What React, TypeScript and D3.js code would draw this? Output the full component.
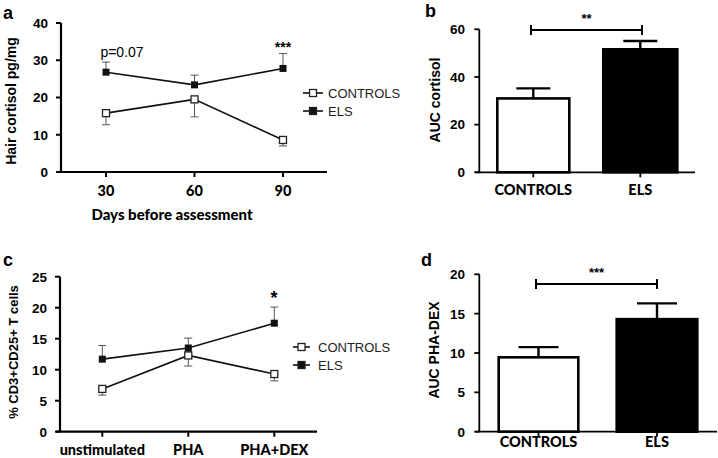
import React from "react";
import * as d3 from "d3";

// Panel a data
const daysCats = ["30", "60", "90"];
const cortControls = [15.8, 19.5, 8.6];
const cortControlsErr = [3.1, 4.7, 1.6];
const cortELS = [26.8, 23.4, 27.8];
const cortELSErr = [2.7, 2.6, 4.0];
const cortTicks = [0, 10, 20, 30, 40];

// Panel b data
const groups = ["CONTROLS", "ELS"];
const aucCortisol = [31.0, 51.6];
const aucCortisolErr = [4.2, 3.5];
const aucCortTicks = [0, 20, 40, 60];

// Panel c data
const stimCats = ["unstimulated", "PHA", "PHA+DEX"];
const tcControls = [6.9, 12.3, 9.3];
const tcControlsErr = [1.0, 1.7, 1.1];
const tcELS = [11.7, 13.5, 17.5];
const tcELSErr = [2.2, 1.6, 2.6];
const tcTicks = [0, 5, 10, 15, 20, 25];

// Panel d data
const aucPha = [9.45, 14.3];
const aucPhaErr = [1.3, 2.0];
const aucPhaTicks = [0, 5, 10, 15, 20];

const CAL = "Lato, 'Open Sans', sans-serif";
const ARI = "'Liberation Sans', Arial, sans-serif";

type LineProps = {
  cats: string[];
  ctrl: number[];
  ctrlErr: number[];
  els: number[];
  elsErr: number[];
  ticks: number[];
  yMax: number;
  yPx: [number, number];
  xAxisX: [number, number];
  xPos: [number, number];
  yAxisX: number;
  tickLabelX: number;
  catLabelY: number;
  legendX: number;
  legendY: [number, number];
  legendLine: [number, number];
};

function LinePanel(p: LineProps) {
  const y = d3.scaleLinear().domain([0, p.yMax]).range(p.yPx);
  const x = d3.scalePoint<string>().domain(p.cats).range(p.xPos);
  const line = d3
    .line<number>()
    .x((_, i) => x(p.cats[i])!)
    .y((d) => y(d));
  const sq = 7;
  return (
    <g>
      <line x1={p.yAxisX} x2={p.yAxisX} y1={p.yPx[1]} y2={p.yPx[0]} stroke="#000" strokeWidth={2.2} />
      {p.ticks.map((t) => (
        <g key={t}>
          <line x1={p.yAxisX - 5} x2={p.yAxisX} y1={y(t)} y2={y(t)} stroke="#000" strokeWidth={2} />
          <text x={p.tickLabelX} y={y(t)} dy="0.36em" textAnchor="end" fontFamily={ARI} fontWeight="bold" fontSize={13.5}>
            {t}
          </text>
        </g>
      ))}
      <line x1={p.xAxisX[0]} x2={p.xAxisX[1]} y1={p.yPx[0]} y2={p.yPx[0]} stroke="#000" strokeWidth={2.2} />
      {p.cats.map((c) => (
        <g key={c}>
          <line x1={x(c)} x2={x(c)} y1={p.yPx[0]} y2={p.yPx[0] + 5} stroke="#000" strokeWidth={2} />
          <text x={x(c)} y={p.catLabelY} dy="0.35em" textAnchor="middle" fontFamily={CAL} fontWeight="900" fontSize={14.5}>
            {c}
          </text>
        </g>
      ))}
      {p.ctrl.map((v, i) => {
        const cx = x(p.cats[i])!;
        const y1 = y(v - p.ctrlErr[i]);
        return (
          <g key={"ce" + i} stroke="#555" strokeWidth={1}>
            <line x1={cx} x2={cx} y1={y(v)} y2={y1} />
            <line x1={cx - 4} x2={cx + 4} y1={y1} y2={y1} />
          </g>
        );
      })}
      {p.els.map((v, i) => {
        const cx = x(p.cats[i])!;
        const y1 = y(v + p.elsErr[i]);
        return (
          <g key={"ee" + i} stroke="#555" strokeWidth={1}>
            <line x1={cx} x2={cx} y1={y(v)} y2={y1} />
            <line x1={cx - 4} x2={cx + 4} y1={y1} y2={y1} />
          </g>
        );
      })}
      <path d={line(p.ctrl)!} fill="none" stroke="#111" strokeWidth={1.6} />
      <path d={line(p.els)!} fill="none" stroke="#111" strokeWidth={1.6} />
      {p.ctrl.map((v, i) => (
        <rect key={"cm" + i} x={x(p.cats[i])! - sq / 2} y={y(v) - sq / 2} width={sq} height={sq} fill="#fff" stroke="#222" strokeWidth={1.3} />
      ))}
      {p.els.map((v, i) => (
        <rect key={"em" + i} x={x(p.cats[i])! - sq / 2} y={y(v) - sq / 2} width={sq} height={sq} fill="#111" />
      ))}
      {["CONTROLS", "ELS"].map((lab, i) => {
        const ly = p.legendY[i];
        const mx = (p.legendLine[0] + p.legendLine[1]) / 2;
        return (
          <g key={lab}>
            <line x1={p.legendLine[0]} x2={p.legendLine[1]} y1={ly} y2={ly} stroke="#111" strokeWidth={1.6} />
            <rect x={mx - sq / 2} y={ly - sq / 2} width={sq} height={sq} fill={i === 0 ? "#fff" : "#111"} stroke="#222" strokeWidth={1.3} />
            <text x={p.legendX} y={ly} dy="0.35em" fontFamily={ARI} fontSize={13} fill="#222">
              {lab}
            </text>
          </g>
        );
      })}
    </g>
  );
}

type BarProps = {
  vals: number[];
  errs: number[];
  ticks: number[];
  yMax: number;
  yPx: [number, number];
  yAxisX: number;
  xAxisEnd: number;
  barX: [number, number][];
  capHalf: number;
  tickLabelX: number;
  catLabelY: number;
  bracket: [number, number, number];
  star: string;
  starY: number;
};

function BarPanel(p: BarProps) {
  const y = d3.scaleLinear().domain([0, p.yMax]).range(p.yPx);
  return (
    <g>
      {p.vals.map((v, i) => {
        const [x0, x1] = p.barX[i];
        const cx = (x0 + x1) / 2;
        const top = y(v + p.errs[i]);
        return (
          <g key={i}>
            <line x1={cx} x2={cx} y1={y(v)} y2={top} stroke="#000" strokeWidth={2.4} />
            <line x1={cx - p.capHalf} x2={cx + p.capHalf} y1={top} y2={top} stroke="#000" strokeWidth={2.4} />
            <rect x={x0} y={y(v)} width={x1 - x0} height={p.yPx[0] - y(v)} fill={i === 0 ? "#fff" : "#000"} stroke="#000" strokeWidth={2.6} />
          </g>
        );
      })}
      <line x1={p.yAxisX} x2={p.yAxisX} y1={p.yPx[1]} y2={p.yPx[0]} stroke="#000" strokeWidth={1.8} />
      {p.ticks.map((t) => (
        <g key={t}>
          <line x1={p.yAxisX - 5} x2={p.yAxisX} y1={y(t)} y2={y(t)} stroke="#000" strokeWidth={1.8} />
          <text x={p.tickLabelX} y={y(t)} dy="0.36em" textAnchor="end" fontFamily={ARI} fontWeight="bold" fontSize={13.5}>
            {t}
          </text>
        </g>
      ))}
      <line x1={p.yAxisX - 4} x2={p.xAxisEnd} y1={p.yPx[0]} y2={p.yPx[0]} stroke="#000" strokeWidth={1.8} />
      {groups.map((g, i) => {
        const cx = (p.barX[i][0] + p.barX[i][1]) / 2;
        return (
          <g key={g}>
            <line x1={cx} x2={cx} y1={p.yPx[0]} y2={p.yPx[0] + 5} stroke="#000" strokeWidth={1.8} />
            <text x={cx} y={p.catLabelY} dy="0.35em" textAnchor="middle" fontFamily={CAL} fontWeight="900" fontSize={14.5}>
              {g}
            </text>
          </g>
        );
      })}
      <g stroke="#000" strokeWidth={2}>
        <line x1={p.bracket[0]} x2={p.bracket[1]} y1={p.bracket[2]} y2={p.bracket[2]} />
        <line x1={p.bracket[0]} x2={p.bracket[0]} y1={p.bracket[2] - 5} y2={p.bracket[2] + 5} />
        <line x1={p.bracket[1]} x2={p.bracket[1]} y1={p.bracket[2] - 5} y2={p.bracket[2] + 5} />
      </g>
      <text x={(p.bracket[0] + p.bracket[1]) / 2} y={p.starY} dy="0.35em" textAnchor="middle" fontFamily={ARI} fontWeight="bold" fontSize={13}>
        {p.star}
      </text>
    </g>
  );
}

export default function App() {
  return (
    <svg width={718} height={458} style={{ position: "absolute", left: 0, top: 0, background: "#fff" }}>
      <rect width={718} height={458} fill="#fff" />
      <text x={3} y={19} fontFamily={ARI} fontWeight="bold" fontSize={18}>a</text>
      <text x={425} y={17} fontFamily={ARI} fontWeight="bold" fontSize={18}>b</text>
      <text x={3} y={266} fontFamily={ARI} fontWeight="bold" fontSize={18}>c</text>
      <text x={421} y={266} fontFamily={ARI} fontWeight="bold" fontSize={18}>d</text>

      {/* Panel a */}
      <LinePanel
        cats={daysCats}
        ctrl={cortControls}
        ctrlErr={cortControlsErr}
        els={cortELS}
        elsErr={cortELSErr}
        ticks={cortTicks}
        yMax={40}
        yPx={[172, 23]}
        xAxisX={[57, 327]}
        xPos={[106, 283]}
        yAxisX={61}
        tickLabelX={48}
        catLabelY={191}
        legendX={328}
        legendY={[93, 111]}
        legendLine={[303, 323]}
      />
      <text transform="translate(11,101) rotate(-90)" textAnchor="middle" dy="0.35em" fontFamily={ARI} fontWeight="bold" fontSize={14}>
        Hair cortisol pg/mg
      </text>
      <text x={172} y={215} textAnchor="middle" dy="0.35em" fontFamily={CAL} fontWeight="900" fontSize={15}>
        Days before assessment
      </text>
      <text x={122} y={52} textAnchor="middle" dy="0.35em" fontFamily={ARI} fontSize={14}>p=0.07</text>
      <text x={283} y={47} textAnchor="middle" dy="0.35em" fontFamily={ARI} fontWeight="bold" fontSize={14}>***</text>

      {/* Panel b */}
      <BarPanel
        vals={aucCortisol}
        errs={aucCortisolErr}
        ticks={aucCortTicks}
        yMax={60}
        yPx={[172.3, 29.3]}
        yAxisX={479.3}
        xAxisEnd={695}
        barX={[[497.3, 569.3], [603.3, 677.3]]}
        capHalf={17}
        tickLabelX={465}
        catLabelY={190}
        bracket={[531, 642, 30]}
        star="**"
        starY={18}
      />
      <text transform="translate(435,100) rotate(-90)" textAnchor="middle" dy="0.35em" fontFamily={ARI} fontWeight="bold" fontSize={14}>
        AUC cortisol
      </text>

      {/* Panel c */}
      <LinePanel
        cats={stimCats}
        ctrl={tcControls}
        ctrlErr={tcControlsErr}
        els={tcELS}
        elsErr={tcELSErr}
        ticks={tcTicks}
        yMax={25}
        yPx={[431.7, 276.7]}
        xAxisX={[56, 317]}
        xPos={[102.3, 274.3]}
        yAxisX={60}
        tickLabelX={47}
        catLabelY={450}
        legendX={318}
        legendY={[347, 365]}
        legendLine={[293, 310]}
      />
      <text transform="translate(13,352) rotate(-90)" textAnchor="middle" dy="0.35em" fontFamily={ARI} fontWeight="bold" fontSize={13}>
        % CD3+CD25+ T cells
      </text>
      <text x={274} y={298} textAnchor="middle" dy="0.35em" fontFamily={ARI} fontWeight="bold" fontSize={18}>*</text>

      {/* Panel d */}
      <BarPanel
        vals={aucPha}
        errs={aucPhaErr}
        ticks={aucPhaTicks}
        yMax={20}
        yPx={[431.7, 274.3]}
        yAxisX={479.3}
        xAxisEnd={717}
        barX={[[498.7, 578.3], [616.7, 697.3]]}
        capHalf={20}
        tickLabelX={465}
        catLabelY={442}
        bracket={[536, 657, 284]}
        star="***"
        starY={272}
      />
      <text transform="translate(434,350) rotate(-90)" textAnchor="middle" dy="0.35em" fontFamily={ARI} fontWeight="bold" fontSize={14}>
        AUC PHA-DEX
      </text>
    </svg>
  );
}
